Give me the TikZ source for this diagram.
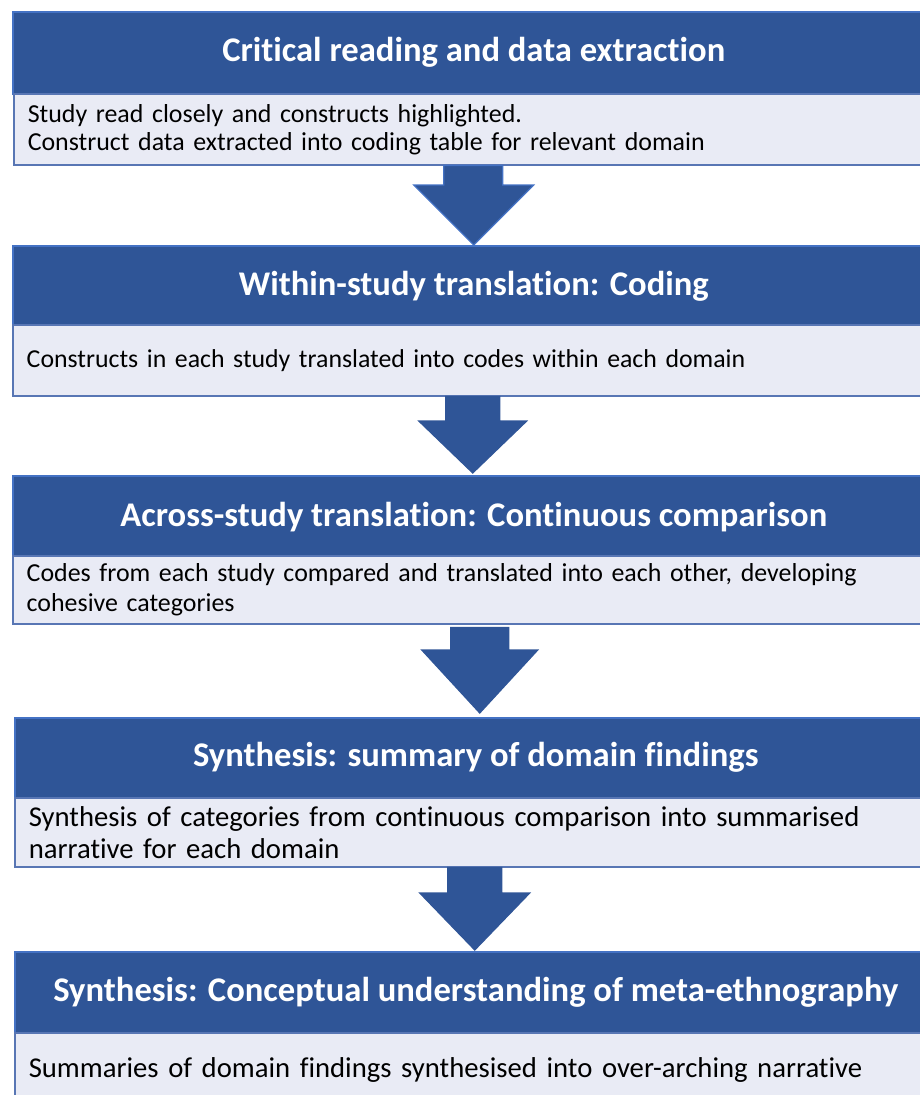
\documentclass[tikz,border=0pt]{standalone}
\usepackage{fontspec}
\setmainfont{Carlito}[Ligatures={NoCommon}]
\usetikzlibrary{calc}
\definecolor{hdrfill}{RGB}{47,85,151}
\definecolor{hdrline}{RGB}{68,114,196}
\definecolor{bodyfill}{RGB}{233,235,245}
\definecolor{bodyline}{RGB}{88,118,180}
\tikzset{
  header/.style={draw=hdrline, line width=1.5pt, fill=hdrfill, text=white,
    anchor=north west, minimum width=922pt, minimum height=#1, inner sep=0pt,
    font=\fontsize{34.6}{40}\selectfont\bfseries},
  header/.default=82pt,
  body/.style={draw=bodyline, line width=1.5pt, fill=bodyfill,
    anchor=north west, text width=892pt, inner xsep=14pt, inner ysep=0pt,
    align=left, minimum height=#1},
  body/.default=71pt,
  flowarrow/.style={fill=hdrfill, draw=#1, line width=1.2pt, line join=miter},
  flowarrow/.default=hdrfill
}
\begin{document}
\begin{tikzpicture}[x=1pt,y=-1pt]
\path[use as bounding box] (0,0) rectangle (920,1095);
\clip (0,0) rectangle (920,1095);

% stage 1
\node[header] (h1) at (12,11) {Critical reading and data extraction};
\node[body, font=\fontsize{25.9}{28}\selectfont] (b1) at (13,93)
  {Study read closely and constructs highlighted.\\Construct data extracted into coding table for relevant domain};

% stage 2
\node[header] (h2) at (12,245) {Within-study translation: Coding};
\node[body, font=\fontsize{25.8}{28}\selectfont] (b2) at (12,324)
  {Constructs in each study translated into codes within each domain};

% stage 3
\node[header] (h3) at (12,475) {Across-study translation: Continuous comparison};
\node[body, minimum height=68pt, font=\fontsize{25.9}{30}\selectfont] (b3) at (12,555)
  {Codes from each study compared and translated into each other, developing\\cohesive categories};

% stage 4
\node[header, minimum height=80pt] (h4) at (14,717) {Synthesis: summary of domain findings};
\node[body, minimum height=69pt, font=\fontsize{28.7}{32}\selectfont] (b4) at (14,797)
  {Synthesis of categories from continuous comparison into summarised\\narrative for each domain};

% stage 5
\node[header, minimum height=81pt] (h5) at (14,951) {Synthesis: Conceptual understanding of meta-ethnography};
\node[body, minimum height=75pt, font=\fontsize{28.7}{32}\selectfont] (b5) at (14,1032)
  {Summaries of domain findings synthesised into over-arching narrative};

% block arrows between the stages
\filldraw[flowarrow=hdrline] let \p1=(b1.south), \p2=(h2.north) in
  (\x1-30pt,\y1) -- (\x1+29pt,\y1) -- (\x1+29pt,\y2+60pt) -- (\x1+60pt,\y2+60pt)
  -- (\x1,\y2) -- (\x1-60pt,\y2+60pt) -- (\x1-30pt,\y2+60pt) -- cycle;
\filldraw[flowarrow] let \p1=(b2.south), \p2=(h3.north) in
  (\x1-27pt,\y1) -- (\x1+27pt,\y1) -- (\x1+27pt,\y2+54pt) -- (\x1+54pt,\y2+54pt)
  -- (\x1,\y2+2pt) -- (\x1-54pt,\y2+54pt) -- (\x1-27pt,\y2+54pt) -- cycle;
\filldraw[flowarrow] let \p1=(b3.south), \p2=(h4.north) in
  ([xshift=7pt]\x1-29pt,\y1-3pt) -- ([xshift=7pt]\x1+29pt,\y1-3pt) -- ([xshift=7pt]\x1+29pt,\y2+67pt)
  -- ([xshift=7pt]\x1+58pt,\y2+67pt) -- ([xshift=7pt]\x1,\y2+4pt)
  -- ([xshift=7pt]\x1-58pt,\y2+67pt) -- ([xshift=7pt]\x1-29pt,\y2+67pt) -- cycle;
\filldraw[flowarrow] let \p1=(b4.south), \p2=(h5.north) in
  (\x1-27pt,\y1) -- (\x1+27pt,\y1) -- (\x1+27pt,\y2+58pt) -- (\x1+55pt,\y2+58pt)
  -- (\x1,\y2+1pt) -- (\x1-55pt,\y2+58pt) -- (\x1-27pt,\y2+58pt) -- cycle;
\end{tikzpicture}
\end{document}
